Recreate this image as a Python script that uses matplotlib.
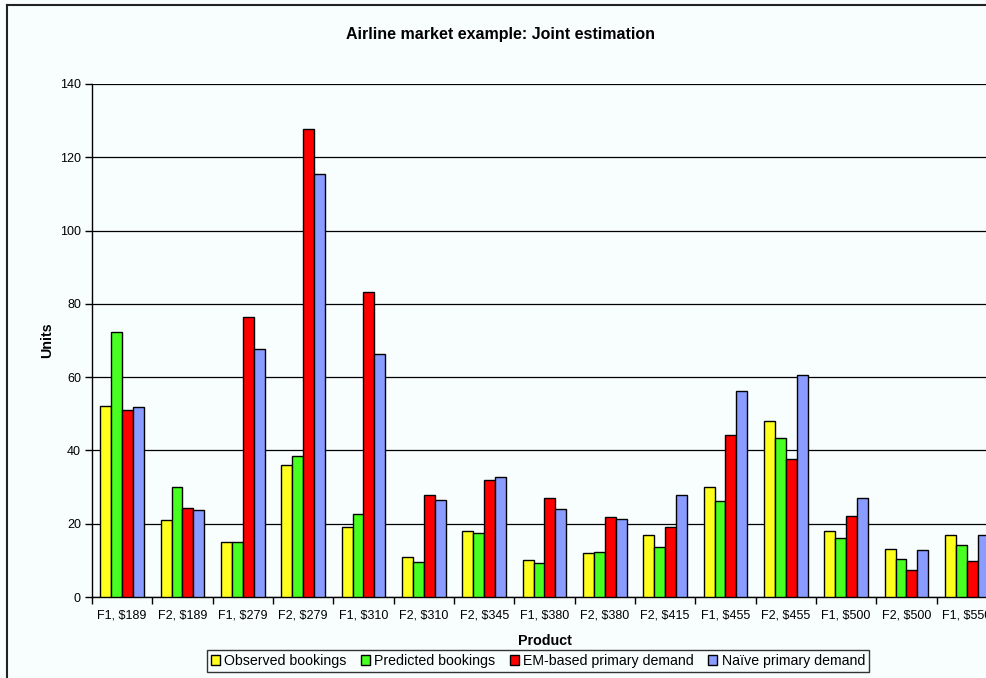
import matplotlib
matplotlib.use("Agg")
import matplotlib.pyplot as plt
import numpy as np
from matplotlib.lines import Line2D
from matplotlib.patches import Patch

products = ["F1, $189", "F2, $189", "F1, $279", "F2, $279", "F1, $310",
            "F2, $310", "F2, $345", "F1, $380", "F2, $380", "F2, $415",
            "F1, $455", "F2, $455", "F1, $500", "F2, $500", "F1, $550"]
observed = [52, 21, 15, 36, 19, 11, 18, 10, 12, 17, 30, 48, 18, 13, 17]
predicted = [72.4, 30.1, 15.0, 38.5, 22.6, 9.6, 17.6, 9.2, 12.4, 13.7, 26.1, 43.4, 16.2, 10.5, 14.2]
em_demand = [50.9, 24.2, 76.4, 127.8, 83.3, 27.8, 32.0, 27.0, 21.9, 19.2, 44.3, 37.6, 22.0, 7.4, 9.9]
naive_demand = [51.9, 23.7, 67.8, 115.4, 66.4, 26.4, 32.8, 23.9, 21.4, 27.7, 56.2, 60.5, 27.1, 12.9, 17.0]
series_names = ["Observed bookings", "Predicted bookings",
                "EM-based primary demand", "Naïve primary demand"]
colors = ["#ffff1e", "#48ff22", "#ff0000", "#8a9cff"]
y_ticks = [0, 20, 40, 60, 80, 100, 120, 140]

bg = "#f8fdfd"
plt.rcParams["font.family"] = ["Liberation Sans", "DejaVu Sans"]

W, H = 987, 678
fig = plt.figure(figsize=(W / 100, H / 100), dpi=100, facecolor=bg)

# plot area (right edge runs past the figure edge)
left, right, top, bottom = 92, 997, 84, 597
ax = fig.add_axes([left / W, 1 - bottom / H, (right - left) / W, (bottom - top) / H])
ax.set_facecolor(bg)

x = np.arange(len(products))
bw = 0.181
for i, (vals, c) in enumerate(zip([observed, predicted, em_demand, naive_demand], colors)):
    ax.bar(x + (i - 1.5) * bw, vals, width=bw, color=c, edgecolor="black",
           linewidth=1.0, zorder=3)

ax.set_xlim(-0.5, len(products) - 0.5)
ax.set_ylim(0, 140)
ax.set_yticks(y_ticks)
ax.yaxis.grid(True, color="black", linewidth=0.9, zorder=0)
ax.set_axisbelow(True)
ax.tick_params(axis="y", direction="out", length=5, width=1, labelsize=9, pad=3)

ax.set_xticks(x)
ax.set_xticklabels(products, fontsize=9)
ax.set_xticks(np.arange(len(products) + 1) - 0.5, minor=True)
ax.tick_params(axis="x", which="major", length=0, pad=9)
ax.tick_params(axis="x", which="minor", direction="out", length=5, width=1)

for s in ["top", "right"]:
    ax.spines[s].set_visible(False)
for s in ["left", "bottom"]:
    ax.spines[s].set_color("black")
    ax.spines[s].set_linewidth(1.0)

ax.set_ylabel("Units", fontsize=10.3, fontweight="bold", labelpad=4)
ax.set_xlabel("Product", fontsize=10.3, fontweight="bold", labelpad=9)

fig.text(501 / W, 1 - 35 / H, "Airline market example: Joint estimation",
         ha="center", va="center", fontsize=11.5, fontweight="bold")

handles = [Patch(facecolor=c, edgecolor="black", linewidth=1.0) for c in colors]
leg = fig.legend(handles, series_names, loc="center", ncol=4,
                 bbox_to_anchor=(538 / W, 1 - 661 / H), fontsize=10.2,
                 frameon=True, fancybox=False, edgecolor="black",
                 handlelength=0.65, handleheight=0.65, handletextpad=0.3,
                 columnspacing=1.0, borderpad=0.3, borderaxespad=0)
leg.get_frame().set_linewidth(1.0)
leg.get_frame().set_facecolor(bg)

# chart-area border (top and left edges)
fig.add_artist(Line2D([7 / W, 1.0], [1 - 5 / H, 1 - 5 / H], color="#222222", linewidth=1.5))
fig.add_artist(Line2D([7 / W, 7 / W], [0, 1 - 5 / H], color="#222222", linewidth=1.5))

fig.savefig("out.png", dpi=100, facecolor=bg)
